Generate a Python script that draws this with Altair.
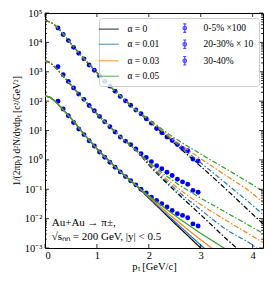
import altair as alt
import pandas as pd

# ---------------- data ----------------
pt = [0.25, 0.35, 0.45, 0.55, 0.65, 0.75, 0.85, 0.95, 1.05, 1.15, 1.25, 1.35, 1.45, 1.55,
      1.65, 1.75, 1.85, 1.95, 2.05, 2.15, 2.25, 2.35, 2.45, 2.55, 2.65, 2.75, 2.85, 2.95]
# log10 of the plotted yields
top_log = [4.49, 4.27, 4.06, 3.83, 3.63, 3.44, 3.23, 3.05, 2.86, 2.68, 2.51, 2.34, 2.16, 2.01,
           1.86, 1.70, 1.57, 1.40, 1.25, 1.07, 0.92, 0.78, 0.66, 0.52, 0.39, 0.31, 0.03, -0.04]
mid_log = [3.17, 2.90, 2.67, 2.45, 2.24, 2.06, 1.85, 1.67, 1.48, 1.30, 1.13, 0.95, 0.78, 0.64,
           0.52, 0.37, 0.21, 0.08, -0.06, -0.20, -0.30, -0.42, -0.53, -0.66, -0.75, -0.83, -1.04, -1.10]
bot_log = [2.00, 1.73, 1.50, 1.27, 1.05, 0.86, 0.65, 0.47, 0.27, 0.09, -0.08, -0.25, -0.41, -0.57,
           -0.71, -0.85, -1.00, -1.13, -1.27, -1.38, -1.49, -1.60, -1.72, -1.83, -1.89, -1.97, -2.18, -2.25]

series_labels = ["0-5% ×100", "20-30% × 10", "30-40%"]
alpha_labels = ["α = 0", "α = 0.01", "α = 0.03", "α = 0.05"]
alpha_colors = ["#000000", "#1f77b4", "#ff7f0e", "#2ca02c"]

# model curves (log10), common low-pT part then one branch per alpha
low_x = [0.0, 0.1, 0.2, 0.3, 0.5, 0.75, 1.0, 1.25, 1.5, 1.75]
top_low = [4.74, 4.69, 4.57, 4.39, 3.96, 3.45, 2.97, 2.51, 2.10, 1.70]
mid_low = [3.37, 3.30, 3.14, 2.95, 2.55, 2.05, 1.57, 1.13, 0.71, 0.34]
bot_low = [2.18, 2.12, 1.98, 1.80, 1.42, 0.88, 0.38, -0.06, -0.48, -0.86]

high_x_dash = [2.0, 2.5, 3.0, 3.5, 4.0, 4.2]
top_a0 = [1.32, 0.55, -0.22, -1.02, -1.85, -2.18]
top_a1 = [1.34, 0.60, -0.10, -0.82, -1.55, -1.86]
top_a3 = [1.36, 0.66, 0.04, -0.55, -1.15, -1.45]
top_a5 = [1.38, 0.74, 0.20, -0.32, -0.85, -1.07]
mid_a0 = [-0.17, -1.05, -1.87, -2.70, -3.50, -3.85]
mid_a1 = [-0.14, -0.97, -1.70, -2.38, -2.90, -3.17]
mid_a3 = [-0.10, -0.88, -1.52, -2.07, -2.60, -2.81]
mid_a5 = [-0.07, -0.75, -1.30, -1.80, -2.30, -2.50]

high_x_solid = [2.0, 2.25, 2.5, 2.75, 3.0, 3.25, 3.5]
bot_a0 = [-1.30, -1.73, -2.16, -2.58, -3.00, -3.42, -3.84]
bot_a1 = [-1.28, -1.70, -2.10, -2.50, -2.90, -3.28, -3.66]
bot_a3 = [-1.25, -1.64, -2.01, -2.37, -2.72, -3.05, -3.38]
bot_a5 = [-1.22, -1.56, -1.89, -2.20, -2.50, -2.78, -3.06]

x_tick_vals = [0, 1, 2, 3, 4]
y_decades = [1e-3, 1e-2, 1e-1, 1e0, 1e1, 1e2, 1e3, 1e4, 1e5]
y_minor = [k * d for d in y_decades[:-1] for k in range(2, 10)]

# ---------------- tables ----------------
pts = []
for lab, arr in zip(series_labels, [top_log, mid_log, bot_log]):
    for x, v in zip(pt, arr):
        pts.append({"pT": x, "val": 10 ** v, "series": lab})
pts = pd.DataFrame(pts)

branches = {
    "top": (top_low, high_x_dash, [top_a0, top_a1, top_a3, top_a5]),
    "mid": (mid_low, high_x_dash, [mid_a0, mid_a1, mid_a3, mid_a5]),
    "bot": (bot_low, high_x_solid, [bot_a0, bot_a1, bot_a3, bot_a5]),
}
rows = []
for ai, alab in enumerate(alpha_labels):
    for g, (low, hx, highs) in branches.items():
        xs = low_x + hx
        ys = low + highs[ai]
        for i, (x, v) in enumerate(zip(xs, ys)):
            rows.append({"pT": x, "val": 10 ** v, "label": alab, "grp": g,
                         "key": f"{ai}-{g}", "i": i})
curves = pd.DataFrame(rows)

# legend entries (two columns, filled column by column)
legend_order = alpha_labels + series_labels
legend_colors = alpha_colors + ["#0000ff"] * 3
LINE = "M-4,0H4"
EB = "M0,-1.7V1.7M-0.6,-1.7H0.6M-0.6,1.7H0.6M0.7,0A0.7,0.7,0,1,1,-0.7,0A0.7,0.7,0,1,1,0.7,0"
legend_shapes = [LINE] * 4 + [EB] * 3

notes = pd.DataFrame({"pT": [0.13, 0.13], "val": [10 ** -2.15, 10 ** -2.62],
                      "txt": ["Au+Au → π±,", "√sₙₙ = 200 GeV, |y| < 0.5"]})

# ---------------- chart ----------------
W, H = 218, 235
FONT = "Liberation Serif"
xscale = alt.Scale(domain=[0, 4.2], nice=False, zero=False)
yscale = alt.Scale(type="log", domain=[1e-3, 1e5], nice=False)
color_scale = alt.Scale(domain=legend_order, range=legend_colors)
shape_scale = alt.Scale(domain=legend_order, range=legend_shapes)

ylab = ("datum.value < 0.005 ? '10⁻³' : datum.value < 0.05 ? '10⁻²' : datum.value < 0.5 ? '10⁻¹' : "
        "datum.value < 5 ? '10⁰' : datum.value < 50 ? '10¹' : datum.value < 500 ? '10²' : "
        "datum.value < 5000 ? '10³' : datum.value < 50000 ? '10⁴' : '10⁵'")

xaxis = alt.Axis(values=x_tick_vals, format="d", ticks=False, domain=False, grid=False,
                 labelFont=FONT, labelFontSize=10.5, labelPadding=2, labelColor="black",
                 title="pₜ [GeV/c]", titleFont=FONT, titleFontSize=10.5,
                 titleFontWeight="normal", titlePadding=1, titleColor="black")
yaxis = alt.Axis(values=y_decades, ticks=False, domain=False, grid=False,
                 labelExpr=ylab,
                 labelFont=FONT, labelFontSize=10.5, labelPadding=3, labelColor="black",
                 title="1/(2πpₜ) d²N/dydpₜ  [c²/GeV²]", titleFont=FONT, titleFontSize=9.5,
                 titleFontWeight="normal", titleX=-24, titleColor="black")

legend = alt.Legend(title=None, orient="none", legendX=54, legendY=5, columns=2,
                    labelFont=FONT, labelFontSize=9.5, labelColor="black",
                    symbolSize=25, symbolStrokeWidth=1.2, labelOffset=14,
                    rowPadding=2.5, columnPadding=20, padding=5,
                    strokeColor="#cccccc", fillColor="rgba(255,255,255,0.8)",
                    cornerRadius=3)

X = lambda f: alt.X(f, scale=xscale, axis=xaxis)
Y = lambda f: alt.Y(f, scale=yscale, axis=yaxis)

points = alt.Chart(pts).mark_circle(size=24, color="#0000ff", opacity=1).encode(
    x=X("pT:Q"), y=Y("val:Q"))

lines = alt.Chart(curves).mark_line(clip=True, strokeWidth=1.2, interpolate="monotone").encode(
    x=X("pT:Q"), y=Y("val:Q"),
    color=alt.Color("label:N", scale=color_scale, legend=legend),
    strokeDash=alt.StrokeDash("grp:N", scale=alt.Scale(domain=["top", "mid", "bot"],
                              range=[[5, 2, 1.5, 2], [5, 2, 1.5, 2], [1, 0]]), legend=None),
    detail="key:N",
    order="i:Q",
)

text = alt.Chart(notes).mark_text(align="left", baseline="middle", font=FONT,
                                  fontSize=11, color="black").encode(
    x=X("pT:Q"), y=Y("val:Q"), text="txt:N")

def yticks(vals, length, right):
    x0, x1 = (W, W - length) if right else (0, length)
    return alt.Chart(pd.DataFrame({"t": vals})).mark_rule(color="black", strokeWidth=0.8).encode(
        y=Y("t:Q"), x=alt.value(x0), x2=alt.value(x1))

def xticks(vals, length, top):
    y0, y1 = (0, length) if top else (H, H - length)
    return alt.Chart(pd.DataFrame({"t": vals})).mark_rule(color="black", strokeWidth=0.8).encode(
        x=X("t:Q"), y=alt.value(y0), y2=alt.value(y1))

leg_layer = alt.Chart(pd.DataFrame({"label": legend_order, "pT": [-1.0] * 7,
                                    "val": [1.0] * 7})).mark_point(
    filled=False, strokeWidth=1.2, clip=True).encode(
    x=X("pT:Q"), y=Y("val:Q"),
    color=alt.Color("label:N", scale=color_scale, legend=legend),
    shape=alt.Shape("label:N", scale=shape_scale, legend=legend),
)

chart = alt.layer(
    points, lines, text,
    yticks(y_decades, 4, False), yticks(y_minor, 2, False),
    yticks(y_decades, 4, True), yticks(y_minor, 2, True),
    xticks(x_tick_vals, 4, False), xticks(x_tick_vals, 4, True),
    leg_layer,
).properties(
    width=W, height=H,
    autosize=alt.AutoSizeParams(type="none"),
    padding={"left": 37, "top": 5, "right": 3, "bottom": 28},
    background="white",
).configure_view(stroke="black", strokeWidth=1)

chart.save("out.html", embed_options={"renderer": "svg", "actions": False})
